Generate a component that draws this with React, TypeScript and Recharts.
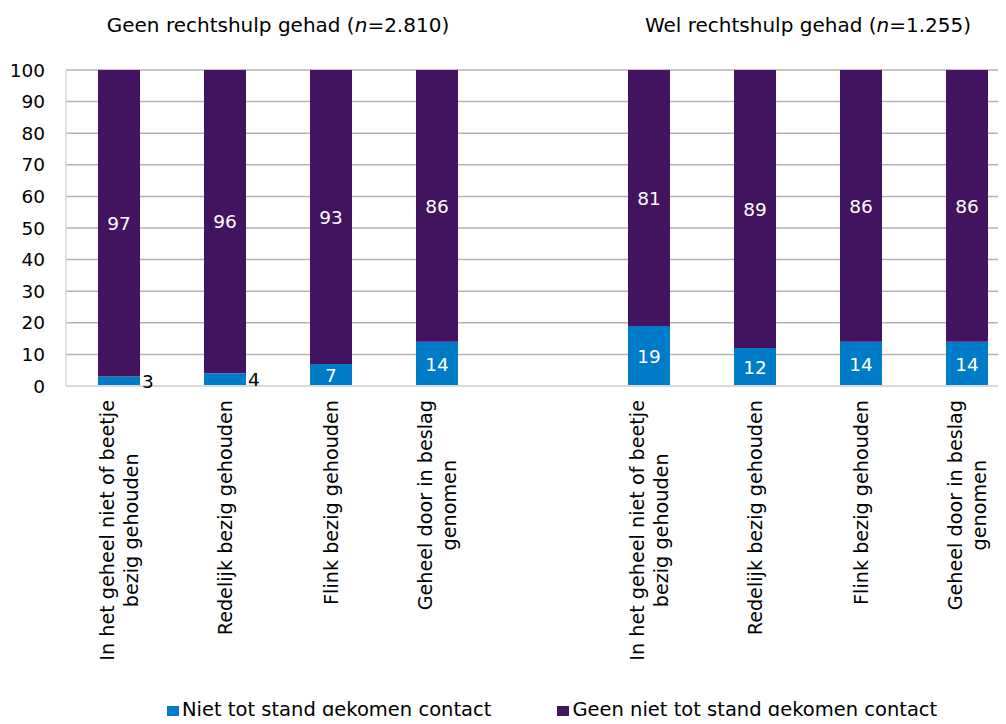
import React from "react"
import { Bar, BarChart, CartesianGrid, LabelList, Legend, ReferenceArea, XAxis, YAxis } from "recharts"

const groupTitles = ["Geen rechtshulp gehad", "Wel rechtshulp gehad"]
const groupN = ["2.810", "1.255"]
const categoryLines = [
  ["In het geheel niet of beetje", "bezig gehouden"],
  ["Redelijk bezig gehouden"],
  ["Flink bezig gehouden"],
  ["Geheel door in beslag", "genomen"],
]
const seriesNames = ["Niet tot stand gekomen contact", "Geen niet tot stand gekomen contact"]
const nietValues = [3, 4, 7, 14, 19, 12, 14, 14]
const geenValues = [97, 96, 93, 86, 81, 89, 86, 86]
const yTicks = [0, 10, 20, 30, 40, 50, 60, 70, 80, 90, 100]

const BLUE = "#007bc7"
const PURPLE = "#42145f"
const FONT = "DejaVu Sans"
const TICK_FONT_SIZE = 19.2

type Row = { key: string; cat: number; niet: number | null; geen: number | null }

const rows: Row[] = []
groupTitles.forEach((_, gi) => {
  if (gi > 0) rows.push({ key: "gap", cat: -1, niet: null, geen: null })
  categoryLines.forEach((__, ci) => {
    rows.push({
      key: `g${gi}-c${ci}`,
      cat: ci,
      niet: nietValues[gi * categoryLines.length + ci],
      geen: geenValues[gi * categoryLines.length + ci],
    })
  })
})

let ctx: CanvasRenderingContext2D | null = null
function textWidth(s: string, size: number): number {
  if (!ctx) ctx = document.createElement("canvas").getContext("2d")
  if (!ctx) return s.length * size * 0.58
  ctx.font = `${size}px "${FONT}"`
  return ctx.measureText(s).width
}

function CategoryTick(props: any) {
  const { x, y, payload } = props
  const row = rows.find((r) => r.key === payload?.value)
  if (!row || row.cat < 0) return null
  const lines = categoryLines[row.cat]
  const longest = Math.max(...lines.map((l) => textWidth(l, TICK_FONT_SIZE)))
  const cy = y + 14 + longest / 2
  const lineGap = 24
  return (
    <g>
      {lines.map((line, i) => {
        const bx = x + (i - (lines.length - 1) / 2) * lineGap + TICK_FONT_SIZE * 0.36
        return (
          <text
            key={i}
            x={bx}
            y={cy}
            textAnchor="middle"
            fill="#000"
            fontSize={TICK_FONT_SIZE}
            transform={`rotate(-90 ${bx} ${cy})`}
          >
            {line}
          </text>
        )
      })}
    </g>
  )
}

function boxOf(props: any) {
  const vb = props.viewBox || {}
  return {
    x: Number(props.x ?? vb.x),
    y: Number(props.y ?? vb.y),
    w: Number(props.width ?? vb.width),
    h: Number(props.height ?? vb.height),
  }
}

function NietLabel(props: any) {
  const { value } = props
  if (value == null) return null
  const { x, y, w, h } = boxOf(props)
  if (value < 5) {
    return (
      <text x={x + w + 2} y={y + h / 2} dy="0.36em" fill="#000" fontSize={18.5} textAnchor="start">
        {value}
      </text>
    )
  }
  return (
    <text x={x + w / 2} y={y + h / 2} dy="0.36em" fill="#fff" fontSize={18.5} textAnchor="middle">
      {value}
    </text>
  )
}

function GeenLabel(props: any) {
  const { value } = props
  if (value == null) return null
  const { x, y, w, h } = boxOf(props)
  return (
    <text x={x + w / 2} y={y + h / 2} dy="0.36em" fill="#fff" fontSize={18.5} textAnchor="middle">
      {value}
    </text>
  )
}

function GroupTitle(props: any) {
  const { viewBox, gi } = props
  if (!viewBox) return null
  const cx = viewBox.x + viewBox.width / 2
  return (
    <text x={cx} y={viewBox.y - 38} textAnchor="middle" fill="#000" fontSize={20}>
      {groupTitles[gi]} (<tspan fontStyle="italic">n</tspan>={groupN[gi]})
    </text>
  )
}

function LegendContent() {
  const colors = [BLUE, PURPLE]
  return (
    <div
      style={{
        display: "flex",
        height: 23,
        lineHeight: "23px",
        fontSize: 19.5,
        fontFamily: FONT,
        color: "#000",
        paddingLeft: 167,
        whiteSpace: "nowrap",
      }}
    >
      {seriesNames.map((name, i) => (
        <div key={name} style={{ display: "flex", alignItems: "flex-start", marginRight: i === 0 ? 66 : 0 }}>
          <span style={{ display: "inline-block", width: 12, height: 12, marginTop: 8, marginRight: 3, background: colors[i] }} />
          <span>{name}</span>
        </div>
      ))}
    </div>
  )
}

export default function App() {
  return (
    <div
      style={{
        width: 1006,
        height: 724,
        margin: -8,
        overflow: "hidden",
        position: "relative",
        background: "#fff",
        fontFamily: FONT,
      }}
    >
      <BarChart width={1040} height={724} data={rows} margin={{ top: 70, right: 20, left: 0, bottom: 0 }}>
        <CartesianGrid vertical={false} stroke="#b3b3b3" strokeWidth={1.5} />
        <XAxis
          dataKey="key"
          interval={0}
          height={315}
          tickLine={false}
          tickSize={0}
          tickMargin={0}
          axisLine={{ stroke: "#d9d9d9", strokeWidth: 2 }}
          tick={<CategoryTick />}
        />
        <YAxis
          width={66}
          domain={[0, 100]}
          ticks={yTicks}
          allowDataOverflow
          tickLine={false}
          tickSize={0}
          tickMargin={21}
          axisLine={{ stroke: "#d9d9d9", strokeWidth: 1.5 }}
          tick={{ fill: "#000", fontSize: 18.5 }}
        />
        {groupTitles.map((_, gi) => (
          <ReferenceArea
            key={gi}
            x1={`g${gi}-c0`}
            x2={`g${gi}-c${categoryLines.length - 1}`}
            fill="none"
            fillOpacity={0}
            stroke="none"
            label={<GroupTitle gi={gi} />}
          />
        ))}
        <Bar dataKey="niet" name={seriesNames[0]} stackId="a" fill={BLUE} barSize={42} isAnimationActive={false}>
          <LabelList dataKey="niet" content={<NietLabel />} />
        </Bar>
        <Bar dataKey="geen" name={seriesNames[1]} stackId="a" fill={PURPLE} barSize={42} isAnimationActive={false}>
          <LabelList dataKey="geen" content={<GeenLabel />} />
        </Bar>
        <Legend verticalAlign="bottom" wrapperStyle={{ bottom: 3 }} content={<LegendContent />} />
      </BarChart>
    </div>
  )
}
